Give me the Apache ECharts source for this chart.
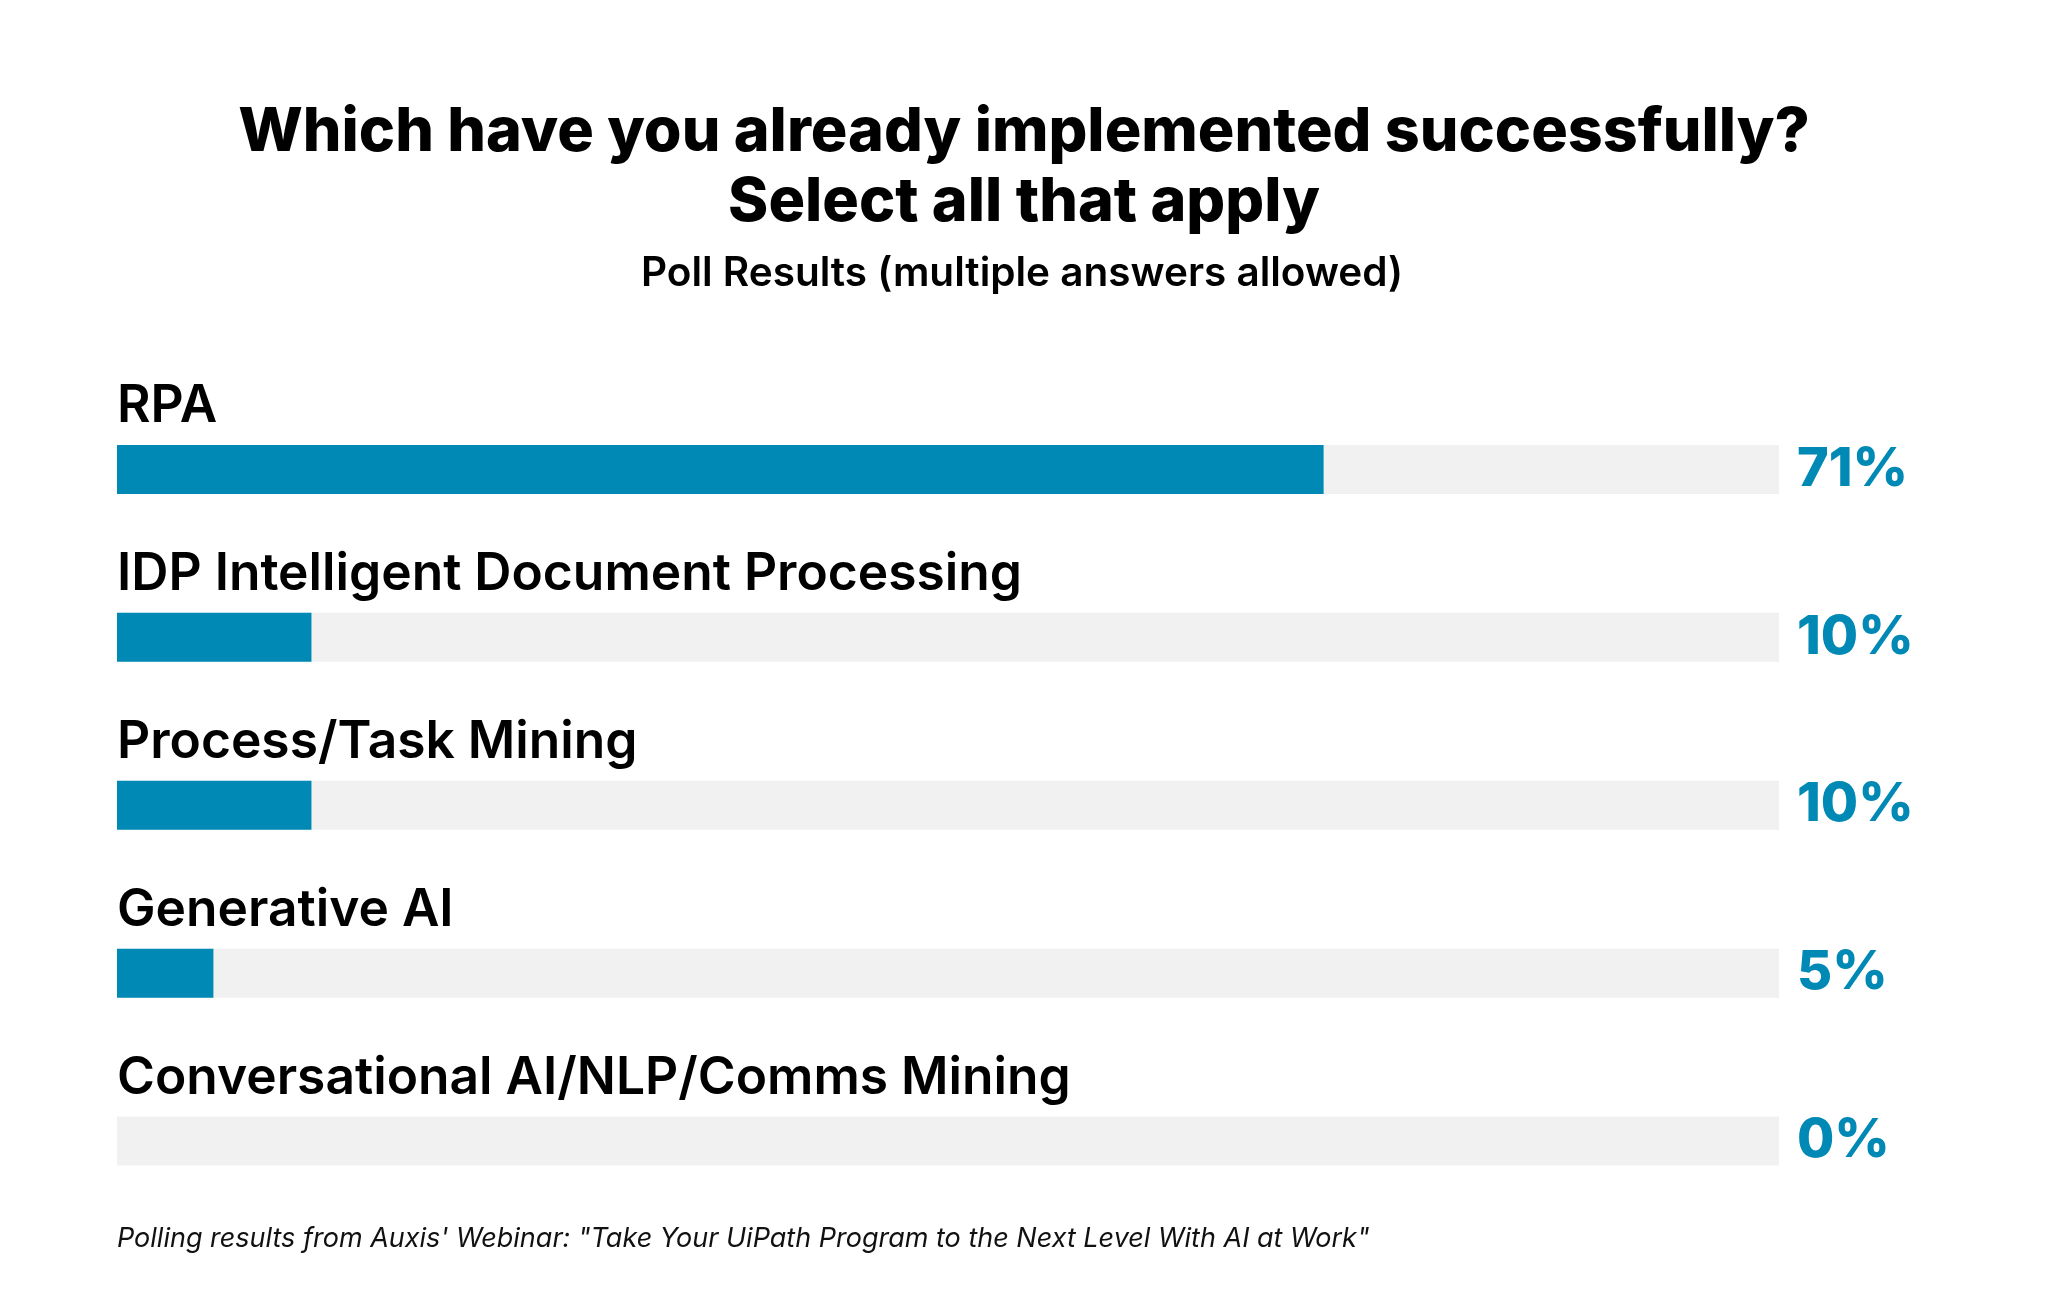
<!DOCTYPE html>
<html>
<head>
<meta charset="utf-8">
<script src="https://cdn.jsdelivr.net/npm/echarts@6/dist/echarts.min.js"></script>
<style>
html,body{margin:0;padding:0;background:#fff;}
#chart{width:2048px;height:1314px;}
</style>
</head>
<body>
<div id="chart"></div>
<script>
const categories = [
  'RPA',
  'IDP Intelligent Document Processing',
  'Process/Task Mining',
  'Generative AI',
  'Conversational AI/NLP/Comms Mining'
];
// bar length as share of the full grey track
const barShare = [72.6, 11.7, 11.7, 5.8, 0];
// printed percentages
const percentLabels = ['71%', '10%', '10%', '5%', '0%'];

const titleLines = ['Which have you already implemented successfully?', 'Select all that apply'];
const subtitleText = 'Poll Results (multiple answers allowed)';
const footnoteText = 'Polling results from Auxis\' Webinar: "Take Your UiPath Program to the Next Level With AI at Work"';

const FONT = 'Inter, "Noto Sans", sans-serif';
const BLUE = '#0089B4';
const TRACK = '#F0F1F0';

const chart = echarts.init(document.getElementById('chart'), null, {renderer: 'canvas'});
chart.setOption({
  backgroundColor: '#ffffff',
  animation: false,
  graphic: [
    {
      type: 'text', x: 1024, y: 102,
      style: {text: titleLines[0], align: 'center', font: '800 61px ' + FONT, fill: '#000'}
    },
    {
      type: 'text', x: 1024, y: 172,
      style: {text: titleLines[1], align: 'center', font: '800 61px ' + FONT, fill: '#000'}
    },
    {
      type: 'text', x: 1022, y: 253,
      style: {text: subtitleText, align: 'center', font: '600 40.5px ' + FONT, fill: '#000'}
    },
    {
      type: 'text', x: 117, y: 1225,
      style: {text: footnoteText, align: 'left', font: 'italic 400 27px ' + FONT, fill: '#111'}
    }
  ],
  grid: {left: 117, right: 269, top: 385.5, bottom: 89, containLabel: false},
  xAxis: {type: 'value', min: 0, max: 100, show: false},
  yAxis: [
    {
      type: 'category', data: categories, inverse: true,
      axisLine: {show: false}, axisTick: {show: false}, axisLabel: {show: false}
    },
    {
      type: 'category', data: percentLabels, inverse: true, position: 'right',
      axisLine: {show: false}, axisTick: {show: false},
      axisLabel: {
        show: true, margin: 18, align: 'left', verticalAlign: 'middle',
        fontFamily: FONT, fontSize: 54, fontWeight: 800, color: BLUE,
        padding: [44, 0, 0, 0]
      }
    }
  ],
  series: [{
    type: 'bar',
    data: barShare,
    yAxisIndex: 0,
    barWidth: 49,
    showBackground: true,
    backgroundStyle: {color: TRACK},
    itemStyle: {color: BLUE},
    label: {
      show: true,
      position: [0, -12],
      align: 'left',
      verticalAlign: 'bottom',
      formatter: p => categories[p.dataIndex],
      fontFamily: FONT, fontSize: 51.5, fontWeight: 600, color: '#000'
    }
  }]
});
</script>
</body>
</html>
